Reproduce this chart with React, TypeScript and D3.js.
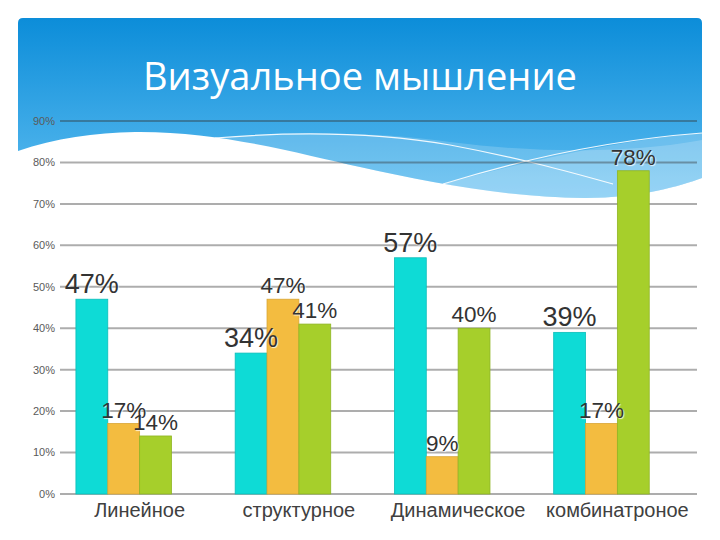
import React from "react";
import * as d3 from "d3";

const title = "Визуальное мышление";
const categories = ["Линейное", "структурное", "Динамическое", "комбинатроное"];
const seriesNames = ["Ряд 1", "Ряд 2", "Ряд 3"];
const series1 = [0.47, 0.34, 0.57, 0.39];
const series2 = [0.17, 0.47, 0.09, 0.17];
const series3 = [0.14, 0.41, 0.40, 0.78];
const seriesValues = [series1, series2, series3];
const seriesColors = ["#0edbd6", "#f3bc40", "#a6cf2b"];
const seriesStroke = ["#0bbdb9", "#d9a533", "#8fb524"];
const labelSizes = [27, 22.5, 22.5];
const yTicks = [0, 0.1, 0.2, 0.3, 0.4, 0.5, 0.6, 0.7, 0.8, 0.9];

const W = 720;
const H = 540;
const plotLeft = 60;
const plotRight = 697;
const yTop = 121;
const yBottom = 494;

export default function App() {
  const x = d3
    .scaleBand<string>()
    .domain(categories)
    .range([plotLeft, plotRight])
    .paddingInner(0.2)
    .paddingOuter(0.1);
  // four slots per group (the chart reserves a fourth, empty slot)
  const sub = d3
    .scaleBand<number>()
    .domain([0, 1, 2, 3])
    .range([0, x.bandwidth()]);
  const y = d3.scaleLinear().domain([0, 0.9]).range([yBottom, yTop]);
  const fmt = d3.format(".0%");

  const headerPath =
    "M18,23 Q18,18 23,18 L697,18 Q702,18 702,23 L702,178 " +
    "C680,186 640,198 585,198 C500,197 430,182 360,167 " +
    "C300,154 220,131 135,132 C95,133 55,138 18,151 Z";
  const bandA =
    "M215,138 C300,131 380,132 450,142 C560,156 650,150 702,140 L702,178 " +
    "C680,186 640,198 585,198 C500,197 430,182 360,167 C310,156 260,146 215,138 Z";
  const bandB =
    "M440,185 C530,160 620,140 702,133 L702,178 C680,186 640,198 585,198 C530,197 480,192 440,185 Z";

  return (
    <div style={{ margin: -8 }}>
      <svg width={W} height={H} style={{ display: "block", background: "#fff" }}>
        <defs>
          <linearGradient id="hdr" x1="0" y1="0" x2="0" y2="1">
            <stop offset="0" stopColor="#0c8dd9" />
            <stop offset="1" stopColor="#5cbcf0" />
          </linearGradient>
        </defs>
        <path d={headerPath} fill="url(#hdr)" />
        <path d={bandA} fill="#ffffff" opacity={0.18} />
        <path d={bandB} fill="#ffffff" opacity={0.22} />
        <path
          d="M215,138 C300,131 380,133 450,145 C520,158 570,172 613,184"
          fill="none"
          stroke="#ffffff"
          strokeWidth={1.2}
          opacity={0.9}
        />
        <path
          d="M443,184 C520,160 610,140 702,133"
          fill="none"
          stroke="#ffffff"
          strokeWidth={1.2}
          opacity={0.9}
        />
        <text
          x={360}
          y={90}
          textAnchor="middle"
          fill="#ffffff"
          fontFamily="'Open Sans', sans-serif"
          fontSize={38}
          textLength={434}
          lengthAdjust="spacingAndGlyphs"
        >
          {title}
        </text>

        {yTicks.map((t) => (
          <g key={t}>
            <line
              x1={plotLeft}
              x2={plotRight}
              y1={y(t)}
              y2={y(t)}
              stroke="#333"
              strokeOpacity={0.4}
              strokeWidth={2}
            />
            <text
              x={55}
              y={y(t)}
              dy="0.35em"
              textAnchor="end"
              fill="#5a5a5a"
              fontFamily="'Liberation Sans', Arial, sans-serif"
              fontSize={11}
            >
              {fmt(t)}
            </text>
          </g>
        ))}

        {seriesValues.map((vals, si) =>
          vals.map((v, ci) => {
            const bx = (x(categories[ci]) as number) + (sub(si) as number);
            return (
              <rect
                key={`b${si}-${ci}`}
                x={bx}
                y={y(v)}
                width={sub.bandwidth()}
                height={y(0) - y(v)}
                fill={seriesColors[si]}
                stroke={seriesStroke[si]}
                strokeWidth={0.8}
              >
                <title>{seriesNames[si]}</title>
              </rect>
            );
          })
        )}

        {seriesValues.map((vals, si) =>
          vals.map((v, ci) => {
            const cx =
              (x(categories[ci]) as number) + (sub(si) as number) + sub.bandwidth() / 2;
            return (
              <text
                key={`l${si}-${ci}`}
                x={cx}
                y={y(v) - 6}
                textAnchor="middle"
                fill="#333"
                fontFamily="'Liberation Sans', Arial, sans-serif"
                fontSize={labelSizes[si]}
                style={{ textShadow: "1px 1px 1px rgba(255,255,255,0.8)" }}
              >
                {fmt(v)}
              </text>
            );
          })
        )}

        {categories.map((c) => (
          <text
            key={c}
            x={(x(c) as number) + x.bandwidth() / 2}
            y={517}
            textAnchor="middle"
            fill="#404040"
            fontFamily="'Liberation Sans', Arial, sans-serif"
            fontSize={20}
          >
            {c}
          </text>
        ))}
      </svg>
    </div>
  );
}
